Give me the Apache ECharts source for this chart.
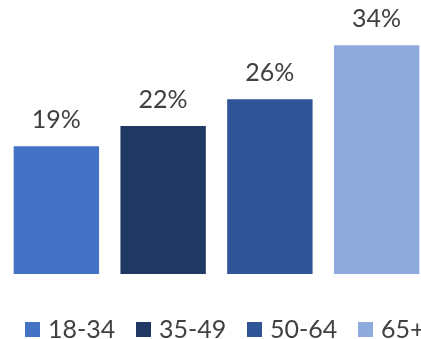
<!DOCTYPE html>
<html>
<head>
<meta charset="utf-8">
<script src="https://cdn.jsdelivr.net/npm/echarts@6/dist/echarts.min.js"></script>
<style>
  html, body { margin: 0; padding: 0; background: #fff; }
  #main { width: 421px; height: 339px; }
</style>
</head>
<body>
<div id="main"></div>
<script>
// age groups and share values (percent)
const categories = ['18-34', '35-49', '50-64', '65+']
const values = [19, 22, 26, 34]
const colors = ['#4472C4', '#203864', '#2F5597', '#8FAADC']

const fontFamily = 'Lato'
const textColor = '#404040'

// one series per group so the legend gets one entry each
const series = categories.map((name, i) => ({
  name: name,
  type: 'bar',
  stack: 'all',
  barCategoryGap: '20%',
  itemStyle: { color: colors[i] },
  data: categories.map((c, j) => (j === i ? values[i] : null)),
  label: {
    show: true,
    position: 'top',
    distance: 14,
    formatter: '{c}%',
    fontFamily: fontFamily,
    fontSize: 25,
    color: textColor
  }
}))

// one legend block per entry, evenly spaced like the original
const legends = categories.map((name, i) => ({
  left: 20 + i * 111,
  top: 312,
  itemWidth: 15,
  itemHeight: 15,
  icon: 'rect',
  data: [name],
  textStyle: {
    fontFamily: fontFamily,
    fontSize: 25,
    color: textColor,
    padding: [0, 0, 0, 3]
  }
}))

const chart = echarts.init(document.getElementById('main'))
chart.setOption({
  animation: false,
  grid: { left: 3, width: 427, top: 5, bottom: 65, outerBoundsMode: 'none', containLabel: false },
  legend: legends,
  xAxis: {
    type: 'category',
    data: categories,
    axisLine: { show: false },
    axisTick: { show: false },
    axisLabel: { show: false }
  },
  yAxis: {
    type: 'value',
    min: 0,
    max: 40,
    show: false,
    splitLine: { show: false }
  },
  series: series
})
</script>
</body>
</html>
